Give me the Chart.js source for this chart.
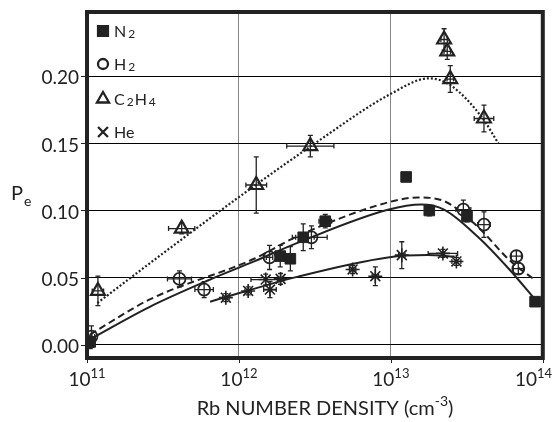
<!DOCTYPE html>
<html>
<head>
<meta charset="utf-8">
<script src="https://cdn.jsdelivr.net/npm/chart.js@4.4.0/dist/chart.umd.min.js"></script>
<style>
  body { margin: 0; background: #fff; }
  canvas { display: block; }
</style>
</head>
<body>
<canvas id="chart" width="553" height="422"></canvas>
<script>
// measured points: Rb density (cm^-3), Pe, +/- error on Pe, x error as a factor
const n2X = [1.05e11, 1.87e12, 2.18e12, 2.65e12, 3.7e12, 1.26e13, 1.79e13, 3.17e13, 8.9e13];
const n2Y = [0.002, 0.066, 0.064, 0.080, 0.092, 0.125, 0.100, 0.0955, 0.032];
const n2Dy = [0.005, 0.008, 0.009, 0.010, 0.005, 0, 0.004, 0.004, 0.002];
const n2Dx = [1.05, 1, 1, 1.18, 1.1, 1, 1, 1, 1.06];

const h2X = [1.07e11, 4.06e11, 5.9e11, 1.59e12, 3.0e12, 3.0e13, 4.1e13, 6.7e13, 6.9e13];
const h2Y = [0.006, 0.049, 0.041, 0.065, 0.080, 0.1007, 0.0895, 0.066, 0.0567];
const h2Dy = [0.008, 0.006, 0.006, 0.009, 0.0085, 0.007, 0.0095, 0.004, 0.004];
const h2Dx = [1.05, 1.2, 1.15, 1.05, 1.27, 1.12, 1.1, 1.08, 1.08];

const c2h4X = [1.18e11, 4.2e11, 1.3e12, 2.95e12, 2.24e13, 2.35e13, 2.46e13, 4.1e13];
const c2h4Y = [0.040, 0.0865, 0.119, 0.148, 0.2275, 0.2186, 0.198, 0.1686];
const c2h4Dy = [0.011, 0.004, 0.021, 0.008, 0.008, 0.006, 0.010, 0.010];
const c2h4Dx = [1.09, 1.22, 1.17, 1.43, 1.05, 1.05, 1.05, 1.16];

const heX = [8.2e11, 1.15e12, 1.5e12, 1.6e12, 1.88e12, 5.6e12, 7.9e12, 1.18e13, 2.2e13, 2.7e13];
const heY = [0.035, 0.040, 0.0485, 0.041, 0.049, 0.056, 0.051, 0.0667, 0.068, 0.062];
const heDy = [0.003, 0.003, 0.004, 0.006, 0.004, 0.003, 0.007, 0.010, 0.003, 0.003];
const heDx = [1.05, 1.05, 1.25, 1.1, 1.05, 1.05, 1.05, 1.05, 1.25, 1.07];

// fitted curves
const n2FitX = [1.047e11, 2.57e11, 6.31e11, 1.26e12, 2.45e12, 9.55e12, 1.585e13, 2.24e13, 3.72e13, 6.03e13, 8.91e13];
const n2FitY = [0.004, 0.028, 0.048, 0.062, 0.076, 0.1005, 0.1045, 0.1007, 0.0806, 0.056, 0.0336];
const h2FitX = [1.047e11, 2.57e11, 1.26e12, 2.45e12, 9.55e12, 1.51e13, 2.24e13, 3.72e13, 6.03e13, 8.91e13];
const h2FitY = [0.0075, 0.0335, 0.064, 0.081, 0.106, 0.1097, 0.107, 0.088, 0.063, 0.048];
const c2h4FitX = [1.17e11, 3.16e11, 1e12, 3.16e12, 1e13, 1.78e13, 2.5e13, 4e13, 5.1e13];
const c2h4FitY = [0.031, 0.068, 0.110, 0.150, 0.187, 0.1985, 0.193, 0.169, 0.150];
const heFitX = [6.46e11, 2.45e12, 9.55e12, 1.74e13, 2.63e13];
const heFitY = [0.032, 0.0507, 0.065, 0.0668, 0.0656];

const xDecades = [1e11, 1e12, 1e13, 1e14];
const yTicks = [0, 0.05, 0.10, 0.15, 0.20];

const INK = "#222";
const FONT = "Lato, 'Open Sans', sans-serif";

function pts(xs, ys) {
  return xs.map((x, i) => ({ x: x, y: ys[i] }));
}

function pointSet(xs, ys, dys, dxs, style, radius, fill, width) {
  return {
    data: pts(xs, ys),
    dy: dys,
    dx: dxs,
    pointStyle: style,
    pointRadius: radius,
    borderColor: INK,
    backgroundColor: fill,
    pointBorderWidth: width,
    showLine: false,
    order: 1,
  };
}

function fitSet(xs, ys, dash, width) {
  return {
    data: pts(xs, ys),
    showLine: true,
    pointRadius: 0,
    borderColor: INK,
    borderWidth: width,
    borderDash: dash,
    cubicInterpolationMode: "monotone",
    fill: false,
    order: 2,
  };
}

// error bars, drawn over the markers like in the original
const errorBars = {
  id: "errorBars",
  afterDatasetsDraw(chart) {
    const ctx = chart.ctx;
    const xs = chart.scales.x, ys = chart.scales.y;
    ctx.save();
    ctx.strokeStyle = INK;
    ctx.lineWidth = 1.3;
    chart.data.datasets.forEach((ds) => {
      if (!ds.dy) return;
      ds.data.forEach((p, i) => {
        const px = xs.getPixelForValue(p.x);
        const py = ys.getPixelForValue(p.y);
        const dy = ds.dy[i], dx = ds.dx[i];
        ctx.beginPath();
        if (dy > 0) {
          const y1 = ys.getPixelForValue(p.y + dy);
          const y2 = ys.getPixelForValue(p.y - dy);
          ctx.moveTo(px, y1); ctx.lineTo(px, y2);
          ctx.moveTo(px - 2.5, y1); ctx.lineTo(px + 2.5, y1);
          ctx.moveTo(px - 2.5, y2); ctx.lineTo(px + 2.5, y2);
        }
        if (dx > 1) {
          const x1 = xs.getPixelForValue(p.x / dx);
          const x2 = xs.getPixelForValue(p.x * dx);
          ctx.moveTo(x1, py); ctx.lineTo(x2, py);
          ctx.moveTo(x1, py - 2.5); ctx.lineTo(x1, py + 2.5);
          ctx.moveTo(x2, py - 2.5); ctx.lineTo(x2, py + 2.5);
        }
        ctx.stroke();
      });
    });
    ctx.restore();
  },
};

// frame, tick labels, axis titles and the legend
const decorations = {
  id: "decorations",
  afterDraw(chart) {
    const ctx = chart.ctx;
    const a = chart.chartArea;
    const xs = chart.scales.x, ys = chart.scales.y;
    ctx.save();

    ctx.strokeStyle = INK;
    ctx.lineWidth = 4;
    ctx.strokeRect(a.left, a.top, a.right - a.left, a.bottom - a.top);

    // small tick marks outside the frame
    ctx.lineWidth = 1;
    ctx.beginPath();
    yTicks.forEach((v) => {
      const y = Math.round(ys.getPixelForValue(v)) + 0.5;
      ctx.moveTo(a.left - 6, y); ctx.lineTo(a.left, y);
    });
    xDecades.forEach((v) => {
      const x = Math.round(xs.getPixelForValue(v)) + 0.5;
      ctx.moveTo(x, a.bottom); ctx.lineTo(x, a.bottom + 5);
    });
    ctx.stroke();

    ctx.fillStyle = INK;
    ctx.font = "19px " + FONT;
    ctx.textAlign = "right";
    ctx.textBaseline = "middle";
    yTicks.forEach((v) => {
      ctx.fillText(v.toFixed(2), a.left - 8, ys.getPixelForValue(v) + 2);
    });

    // 10^n labels
    ctx.textBaseline = "alphabetic";
    ctx.textAlign = "left";
    xDecades.forEach((v) => {
      const exp = String(Math.round(Math.log10(v)));
      ctx.font = "19px " + FONT;
      const wb = ctx.measureText("10").width;
      ctx.font = "13px " + FONT;
      const we = ctx.measureText(exp).width;
      let x0 = xs.getPixelForValue(v) - (wb + we) / 2;
      if (x0 + wb + we > 552) x0 = 552 - wb - we;
      ctx.font = "19px " + FONT;
      ctx.fillText("10", x0, 386);
      ctx.font = "13px " + FONT;
      ctx.fillText(exp, x0 + wb, 378);
    });

    // x title with superscript
    const t1 = "Rb NUMBER DENSITY (cm", t2 = "-3", t3 = ")";
    ctx.font = "20px " + FONT;
    const w1 = ctx.measureText(t1).width, w3 = ctx.measureText(t3).width;
    ctx.font = "14px " + FONT;
    const w2 = ctx.measureText(t2).width;
    let tx = 325 - (w1 + w2 + w3) / 2;
    ctx.font = "20px " + FONT;
    ctx.fillText(t1, tx, 415);
    ctx.font = "14px " + FONT;
    ctx.fillText(t2, tx + w1, 406);
    ctx.font = "20px " + FONT;
    ctx.fillText(t3, tx + w1 + w2, 415);

    // y title P_e
    ctx.font = "20px " + FONT;
    ctx.fillText("P", 11, 200);
    ctx.font = "14px " + FONT;
    ctx.fillText("e", 24, 206);

    // legend in the top-left corner
    const legend = [
      { style: "rect", r: 7, fill: INK, parts: [["N", 0], ["2", 1]], y: 31 },
      { style: "circle", r: 5, fill: "rgba(0,0,0,0)", parts: [["H", 0], ["2", 1]], y: 64 },
      { style: "triangle", r: 7, fill: "rgba(0,0,0,0)", parts: [["C", 0], ["2", 1], ["H", 0], ["4", 1]], y: 99 },
      { style: "crossRot", r: 7, fill: "rgba(0,0,0,0)", parts: [["He", 0]], y: 132 },
    ];
    legend.forEach((it) => {
      ctx.fillStyle = it.fill;
      ctx.strokeStyle = INK;
      ctx.lineWidth = 2.3;
      Chart.helpers.drawPoint(ctx, { pointStyle: it.style, radius: it.r, rotation: 0, borderWidth: 2.3 }, 103, it.y);
      ctx.fillStyle = INK;
      let x = 114;
      it.parts.forEach(([txt, sub]) => {
        if (sub) {
          ctx.font = "12px " + FONT;
          x += 2;
          ctx.fillText(txt, x, it.y + 7);
          x += ctx.measureText(txt).width + 1;
        } else {
          ctx.font = "16px " + FONT;
          ctx.fillText(txt, x, it.y + 5.5);
          x += ctx.measureText(txt).width;
        }
      });
    });

    ctx.restore();
  },
};

new Chart(document.getElementById("chart"), {
  type: "scatter",
  data: {
    datasets: [
      pointSet(n2X, n2Y, n2Dy, n2Dx, "rect", 7.5, INK, 1),
      pointSet(h2X, h2Y, h2Dy, h2Dx, "circle", 6, "rgba(0,0,0,0)", 1.8),
      pointSet(c2h4X, c2h4Y, c2h4Dy, c2h4Dx, "triangle", 8, "rgba(0,0,0,0)", 2.2),
      pointSet(heX, heY, heDy, heDx, "star", 7, "rgba(0,0,0,0)", 1.6),
      fitSet(n2FitX, n2FitY, [], 2),
      fitSet(h2FitX, h2FitY, [7, 4], 2),
      fitSet(c2h4FitX, c2h4FitY, [2, 2], 2.2),
      fitSet(heFitX, heFitY, [], 2),
    ],
  },
  options: {
    responsive: false,
    animation: false,
    layout: { padding: { left: 87, right: 8, top: 12, bottom: 64 } },
    plugins: { legend: { display: false }, tooltip: { enabled: false } },
    scales: {
      x: {
        type: "logarithmic",
        min: 1e11,
        max: 1e14,
        afterBuildTicks: (axis) => { axis.ticks = xDecades.map((v) => ({ value: v })); },
        afterFit: (axis) => { axis.height = 0; },
        ticks: { display: false },
        grid: { color: "#888", lineWidth: 1, drawTicks: false },
        border: { display: false },
      },
      y: {
        min: -0.01,
        max: 0.248,
        afterBuildTicks: (axis) => { axis.ticks = yTicks.map((v) => ({ value: v })); },
        afterFit: (axis) => { axis.width = 0; },
        ticks: { display: false },
        grid: { color: "#000", lineWidth: 1, drawTicks: false },
        border: { display: false },
      },
    },
  },
  plugins: [errorBars, decorations],
});
</script>
</body>
</html>
